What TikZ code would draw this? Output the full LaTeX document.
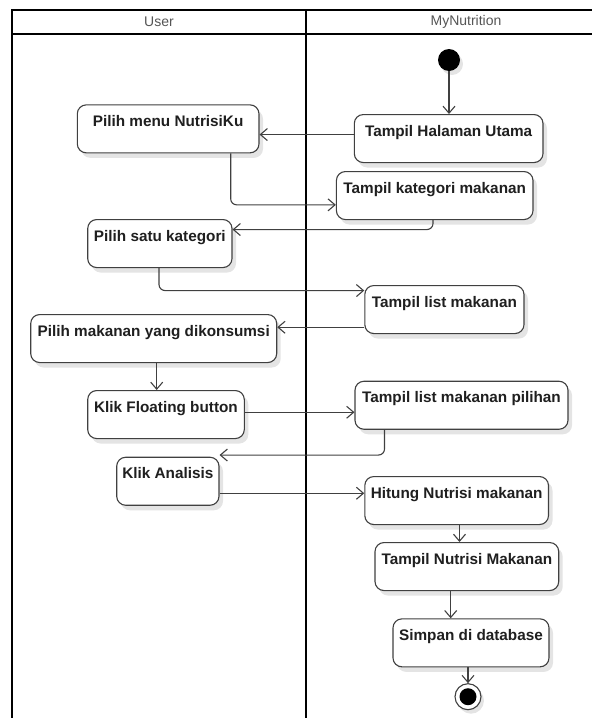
\documentclass[tikz,border=0pt]{standalone}
\usepackage{fontspec}
\setmainfont{Liberation Sans}
\usetikzlibrary{arrows.meta,shadows}
\definecolor{edge}{HTML}{404040}
\definecolor{lanetext}{HTML}{555555}
\definecolor{shade}{HTML}{E4E4E4}
\begin{document}
\begin{tikzpicture}[x=1pt,y=-1pt,
  act/.style={draw=edge, line width=1.1pt, rounded corners=9pt, fill=white,
    drop shadow={shadow xshift=4pt, shadow yshift=-5pt, fill=shade, opacity=1},
    inner xsep=0pt, inner ysep=5pt, text height=16.5pt, text depth=21.5pt,
    minimum height=48pt, anchor=north,
    font=\fontsize{15.3}{18}\selectfont\bfseries, text=black!88},
  flow/.style={draw=edge, line width=1.1pt,
    -{Straight Barb[length=7pt,width=12pt]}, rounded corners=6pt},
  lane/.style={font=\fontsize{14}{16}\selectfont, text=lanetext},
  frame/.style={line width=2pt, line join=miter},
]
\useasboundingbox (0,0) rectangle (592,718);

% swimlane frame
\draw[frame] (12,718) -- (12,10) -- (592,10);
\draw[frame] (12,34) -- (592,34);
\draw[frame] (306,10) -- (306,718);
\node[lane] (userlane) at (159,22) {User};
\node[lane] (applane) at (466,22) {MyNutrition};

% initial and final states
\node[circle, fill=black, minimum size=22pt, inner sep=0pt,
  drop shadow={shadow xshift=3pt, shadow yshift=-4pt, fill=shade, opacity=1}] (start) at (449,60) {};

% actions
\node[act, minimum width=188.7pt] (thu)  at (448.65,114)  {Tampil Halaman Utama};
\node[act, minimum width=181.7pt] (pmn)  at (168.15,104.3) {Pilih menu NutrisiKu};
\node[act, minimum width=196.6pt] (tkm)  at (434.7,171)   {Tampil kategori makanan};
\node[act, minimum width=144.3pt] (psk)  at (159.85,219)  {Pilih satu kategori};
\node[act, minimum width=159.2pt] (tlm)  at (444.4,285)   {Tampil list makanan};
\node[act, minimum width=246pt]   (pmyd) at (153.7,314)   {Pilih makanan yang dikonsumsi};
\node[act, minimum width=156.6pt] (kfb)  at (166,390)     {Klik Floating button};
\node[act, minimum width=213pt]   (tlmp) at (461.5,380.7) {Tampil list makanan pilihan};
\node[act, minimum width=102.3pt] (ka)   at (167.85,456.7) {Klik Analisis};
\node[act, minimum width=183.7pt] (hnm)  at (456.65,476)  {Hitung Nutrisi makanan};
\node[act, minimum width=183.7pt] (tnm)  at (466.85,542)  {Tampil Nutrisi Makanan};
\node[act, minimum width=156pt]   (sid)  at (471,618.3)   {Simpan di database};

\node[circle, draw=edge, line width=1.1pt, fill=white, minimum size=26pt, inner sep=0pt,
  drop shadow={shadow xshift=3pt, shadow yshift=-4pt, fill=shade, opacity=1}] (end) at (468,696.7) {};
\node[circle, fill=black, minimum size=17pt, inner sep=0pt] (endcore) at (end) {};

% control flow
\draw[flow] (start) -- (start |- thu.north);
\draw[flow] ([yshift=4pt]thu.west) -- ([yshift=4pt]thu.west -| pmn.east);
\draw[flow] ([xshift=62.55pt]pmn.south) |- ([yshift=-9.3pt]tkm.west);
\draw[flow] ([xshift=-1.7pt]tkm.south) |- ([yshift=14pt]psk.east);
\draw[flow] ([xshift=-0.85pt]psk.south) |- ([yshift=19pt]tlm.west);
\draw[flow] ([yshift=-17.7pt]tlm.west) -- ([yshift=-17.7pt]tlm.west -| pmyd.east);
\draw[flow] ([xshift=3pt]pmyd.south) -- ([xshift=3pt]pmyd.south |- kfb.north);
\draw[flow] ([yshift=2.3pt]kfb.east) -- ([yshift=2.3pt]kfb.east -| tlmp.west);
\draw[flow] ([xshift=-77pt]tlmp.south) |- ([yshift=26.2pt]ka.east);
\draw[flow] ([yshift=-12pt]ka.east) -- ([yshift=-12pt]ka.east -| hnm.west);
\draw[flow] ([xshift=2.85pt]hnm.south) -- ([xshift=2.85pt]hnm.south |- tnm.north);
\draw[flow] ([xshift=-16.15pt]tnm.south) -- ([xshift=-16.15pt]tnm.south |- sid.north);
\draw[flow] ([xshift=-3pt]sid.south) -- (end.north);
\end{tikzpicture}
\end{document}
